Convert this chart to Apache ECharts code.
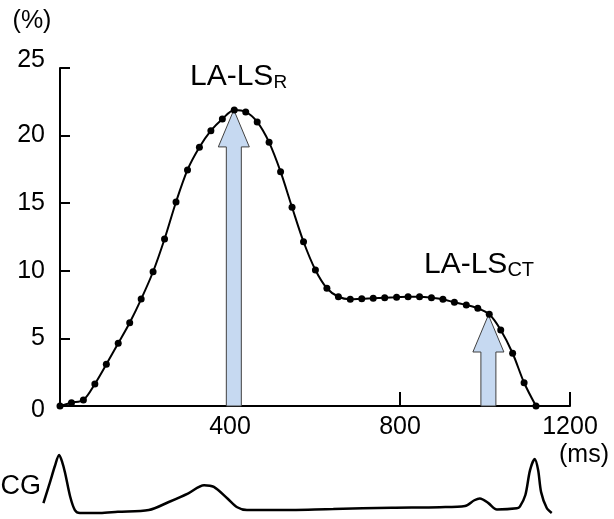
<!DOCTYPE html>
<html><head><meta charset="utf-8">
<script src="https://cdn.jsdelivr.net/npm/echarts@6/dist/echarts.min.js"></script>
<style>html,body{margin:0;padding:0;background:#fff}#c{width:614px;height:519px}</style>
</head><body><div id="c"></div>
<script>
// LA strain curve (ms, %)
const strainTime = [0,27,55,82,109,137,164,191,219,246,273,300,328,355,382,410,437,464,492,519,546,573,601,628,655,683,710,737,764,792,819,846,874,901,928,956,983,1010,1037,1065,1092,1120];
const strainValue = [0,0.24,0.44,1.63,3.08,4.64,6.16,7.91,9.93,12.35,15.09,17.46,19.13,20.36,21.23,21.89,21.75,21.01,19.5,17.33,14.7,12.15,10.06,8.71,8.08,7.89,7.94,7.97,8.01,8.04,8.08,8.08,8.01,7.89,7.67,7.47,7.23,6.78,5.62,3.9,1.72,0];
// arrows: time (ms) and tip value (%)
const arrowTime = [409, 1008];
const arrowTip = [21.9, 6.73];
// ECG trace (ms, relative amplitude)
const ecgTime = [-39,-24,-12,-2,5,12,24,35,47,94,136,209,256,302,339,362,394,417,440,505,643,781,894,953,975,988,1008,1028,1075,1082,1095,1106,1117,1125,1132,1145,1157];
const ecgValue = [0.17,0.52,0.81,1.0,0.88,0.69,0.28,0.05,0,0,0.02,0.05,0.19,0.34,0.48,0.45,0.25,0.10,0.05,0.05,0.07,0.09,0.10,0.12,0.22,0.25,0.17,0.06,0.08,0.11,0.31,0.74,0.93,0.74,0.36,0.09,0];
// axes
const xMin = 0, xMax = 1200, xStep = 400;
const yMin = 0, yMax = 25, yStep = 5;
const ecgXMin = -141.18;

const FONT = 'Liberation Sans, Arial, sans-serif';
const chart = echarts.init(document.getElementById('c'), null, {renderer: 'canvas'});

const strainData = strainTime.map((t, i) => [t, strainValue[i]]);
const ecgData = ecgTime.map((t, i) => [t, ecgValue[i]]);
const arrowData = arrowTime.map((t, i) => [t, arrowTip[i]]);

const tickFont = {color: '#000', fontSize: 25, fontFamily: FONT};

chart.setOption({
  animation: false,
  backgroundColor: '#fff',
  grid: [
    {left: 60, top: 68, width: 510, height: 338},
    {left: 0, top: 455, width: 570, height: 58}
  ],
  xAxis: [
    {
      type: 'value', gridIndex: 0, min: xMin, max: xMax, interval: xStep,
      axisLine: {show: true, onZero: false, lineStyle: {color: '#000', width: 2}},
      axisTick: {show: true, inside: true, length: 14, lineStyle: {color: '#000', width: 2}},
      axisLabel: Object.assign({showMinLabel: false, margin: 9, formatter: v => String(v)}, tickFont),
      splitLine: {show: false}
    },
    {type: 'value', gridIndex: 1, min: ecgXMin, max: xMax, show: false}
  ],
  yAxis: [
    {
      type: 'value', gridIndex: 0, min: yMin, max: yMax, interval: yStep,
      axisLine: {show: true, lineStyle: {color: '#000', width: 2}},
      axisTick: {show: true, inside: true, length: 10, lineStyle: {color: '#000', width: 2}},
      axisLabel: Object.assign({
        margin: 15,
        formatter: v => v === yMax ? '{mx|' + v + '}' : (v === yMin ? '{mn|' + v + '}' : String(v)),
        rich: {
          mx: Object.assign({padding: [0, 0, 16, 0]}, tickFont),
          mn: Object.assign({padding: [8, 0, 0, 0]}, tickFont)
        }
      }, tickFont),
      splitLine: {show: false}
    },
    {type: 'value', gridIndex: 1, min: 0, max: 1, show: false}
  ],
  series: [
    {
      type: 'custom', xAxisIndex: 0, yAxisIndex: 0, z: 2, data: arrowData,
      renderItem: function (params, api) {
        const x = api.value(0), v = api.value(1);
        const base = api.coord([x, 0]);
        const tip = api.coord([x, v]);
        const sw = 7.5, hw = 15.5, hh = 37;
        const cx = base[0];
        const hb = tip[1] + hh;
        return {
          type: 'polygon',
          shape: {points: [[cx - sw, base[1]], [cx - sw, hb], [cx - hw, hb], [cx, tip[1]], [cx + hw, hb], [cx + sw, hb], [cx + sw, base[1]]]},
          style: {fill: '#c6d9f1', stroke: '#404040', lineWidth: 1}
        };
      }
    },
    {
      type: 'line', xAxisIndex: 0, yAxisIndex: 0, z: 3, data: strainData,
      smooth: 0.3, symbol: 'circle', symbolSize: 7, showAllSymbol: true,
      itemStyle: {color: '#000'}, lineStyle: {color: '#000', width: 2}
    },
    {
      type: 'line', xAxisIndex: 1, yAxisIndex: 1, data: ecgData, clip: false,
      smooth: 0.3, symbol: 'none', lineStyle: {color: '#000', width: 2.5}
    }
  ],
  graphic: [
    {type: 'text', x: 32, y: 21, style: {text: '(%)', fontSize: 25, fontFamily: FONT, fill: '#000', align: 'center', verticalAlign: 'middle'}},
    {type: 'text', x: 584, y: 455, style: {text: '(ms)', fontSize: 25, fontFamily: FONT, fill: '#000', align: 'center', verticalAlign: 'middle'}},
    {type: 'text', x: 41, y: 487, style: {text: 'ECG', fontSize: 27, fontFamily: FONT, fill: '#000', align: 'right', verticalAlign: 'middle'}},
    {type: 'text', x: 190, y: 76, style: {
      text: '{a|LA-LS}{b|R}', align: 'left', verticalAlign: 'middle',
      rich: {a: {fontSize: 30, fontFamily: FONT, fill: '#000', lineHeight: 32, verticalAlign: 'bottom'},
             b: {fontSize: 19, fontFamily: FONT, fill: '#000', lineHeight: 24, verticalAlign: 'bottom'}}
    }},
    {type: 'text', x: 424, y: 264, style: {
      text: '{a|LA-LS}{b|CT}', align: 'left', verticalAlign: 'middle',
      rich: {a: {fontSize: 30, fontFamily: FONT, fill: '#000', lineHeight: 32, verticalAlign: 'bottom'},
             b: {fontSize: 20, fontFamily: FONT, fill: '#000', lineHeight: 24, verticalAlign: 'bottom'}}
    }}
  ]
});
</script>
</body></html>
